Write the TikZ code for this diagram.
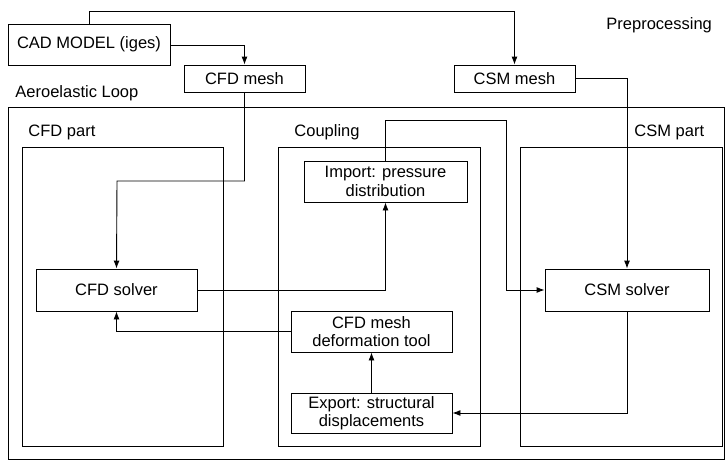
\documentclass[tikz,border=0pt]{standalone}
\usepackage{fontspec}
\setmainfont{Liberation Sans}
\usepackage{tikz}
\usetikzlibrary{arrows.meta}

\begin{document}
\begin{tikzpicture}[x=1pt,y=-1pt,line width=0.9pt,
  font=\fontsize{16.5}{18.5}\selectfont,
  box/.style={draw,inner sep=0pt,align=center},
  lbl/.style={anchor=west,inner sep=0pt},
  arr/.style={-{Latex[length=8pt,width=6pt]}}]
\useasboundingbox (0,0) rectangle (725,461);
\draw (8,107) rectangle (724,459);
\draw (22,147) rectangle (223,446);
\draw (278,147) rectangle (480,446);
\draw (520,147) rectangle (722,446);
\node[lbl] (pre) at (606,25) {Preprocessing};
\node[lbl] (loop) at (15,93) {Aeroelastic Loop};
\node[lbl] (cfdpart) at (28,132) {CFD part};
\node[lbl] (coupling) at (294,132) {Coupling};
\node[lbl] (csmpart) at (634,132) {CSM part};
\node[box,minimum width=162,minimum height=41] (cad) at (89,44.5) {CAD MODEL (iges)};
\node[box,minimum width=121,minimum height=27] (cfdmesh) at (244.5,78.5) {CFD mesh};
\node[box,minimum width=121,minimum height=27] (csmmesh) at (514.5,78.5) {CSM mesh};
\node[box,minimum width=163,minimum height=41] (import) at (385.5,181.5) {Import: pressure\\distribution};
\node[box,minimum width=161,minimum height=42] (cfdsolver) at (116.5,290) {CFD solver};
\node[box,minimum width=164,minimum height=42] (csmsolver) at (627,290) {CSM solver};
\node[box,minimum width=161,minimum height=41] (deform) at (371.5,331.5) {CFD mesh\\deformation tool};
\node[box,minimum width=161,minimum height=40] (export) at (371.5,413) {Export: structural\\displacements};
\coordinate (top) at (89,11);
\coordinate (cfdturn) at (117,181);
\coordinate (cplturn) at (506,120);
\draw[arr] (cad.north) -- (top) -| (csmmesh.north);
\draw[arr] (cad.east |- 0,45) -| (cfdmesh.north);
\draw[arr] (cfdmesh.south) |- (cfdturn) -- (cfdsolver.north);
\draw[arr] (cfdsolver.east) -| (import.south);
\draw[arr] (import.north) |- (cplturn) |- (csmsolver.west);
\draw[arr] (csmmesh.east) -| (csmsolver.north);
\draw[arr] (csmsolver.south) |- (export.east);
\draw[arr] (export.north) -- (deform.south);
\draw[arr] (deform.west) -| (cfdsolver.south);
\end{tikzpicture}
\end{document}
